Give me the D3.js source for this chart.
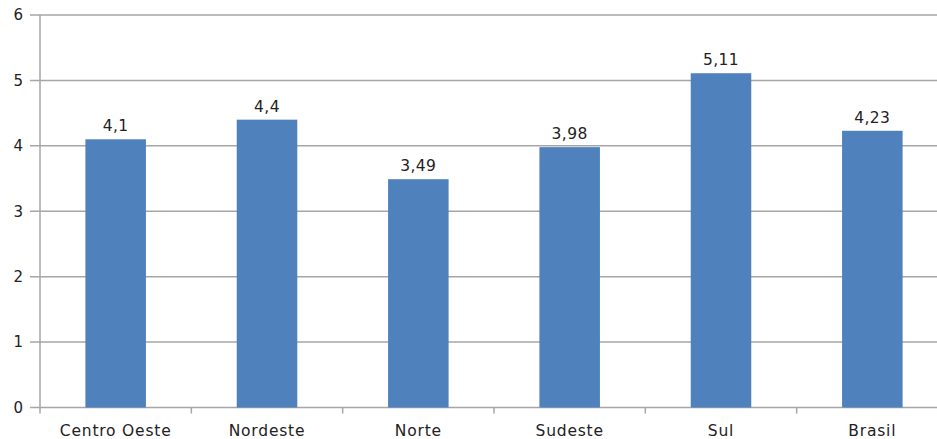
<!DOCTYPE html>
<html><head><meta charset="utf-8">
<script src="https://cdn.jsdelivr.net/npm/d3@7"></script>
<style>body{margin:0;background:#fff;} svg{display:block;} text{font-family:"DejaVu Sans",Verdana,sans-serif;fill:#222;}</style>
</head><body>
<svg id="c" width="937" height="439"></svg>
<script>
const categories = ["Centro Oeste","Nordeste","Norte","Sudeste","Sul","Brasil"];
const values = [4.1,4.4,3.49,3.98,5.11,4.23];
const valueLabels = ["4,1","4,4","3,49","3,98","5,11","4,23"];
const yTicks = [0,1,2,3,4,5,6];

const svg = d3.select("#c");
const x = d3.scaleBand().domain(categories).range([40,948]).paddingInner(0.6).paddingOuter(0.3);
const xb = d3.scaleBand().domain(categories).range([40,948]);
const y = d3.scaleLinear().domain([0,6]).range([407.5,15]);
const grid = "#a6a6a6";

svg.append("g").selectAll("line").data(yTicks).join("line")
  .attr("x1",30).attr("x2",948).attr("y1",d=>y(d)).attr("y2",d=>y(d))
  .attr("stroke",grid).attr("stroke-width",1.5);
svg.append("line").attr("x1",40).attr("x2",40).attr("y1",y(6)).attr("y2",y(0)+6)
  .attr("stroke",grid).attr("stroke-width",1.5);
svg.append("g").selectAll("line").data(categories.slice(1)).join("line")
  .attr("x1",d=>xb(d)).attr("x2",d=>xb(d)).attr("y1",y(0)).attr("y2",y(0)+6)
  .attr("stroke",grid).attr("stroke-width",1.5);
svg.append("g").selectAll("text").data(yTicks).join("text")
  .attr("x",23).attr("y",d=>y(d)).attr("dy","0.36em").attr("text-anchor","end")
  .attr("font-size",15).text(d=>d);
svg.append("g").selectAll("rect").data(values).join("rect")
  .attr("x",(d,i)=>x(categories[i])).attr("width",x.bandwidth())
  .attr("y",d=>y(d)).attr("height",d=>y(0)-y(d))
  .attr("fill","#4f81bd");
svg.append("g").selectAll("text").data(values).join("text")
  .attr("x",(d,i)=>x(categories[i])+x.bandwidth()/2).attr("y",d=>y(d)-8)
  .attr("text-anchor","middle").attr("font-size",15.5).attr("letter-spacing","0.4px").text((d,i)=>valueLabels[i]);
svg.append("g").selectAll("text").data(categories).join("text")
  .attr("x",d=>xb(d)+xb.bandwidth()/2).attr("y",436)
  .attr("text-anchor","middle").attr("font-size",15.5).attr("letter-spacing","0.8px").text(d=>d);
</script>
</body></html>
